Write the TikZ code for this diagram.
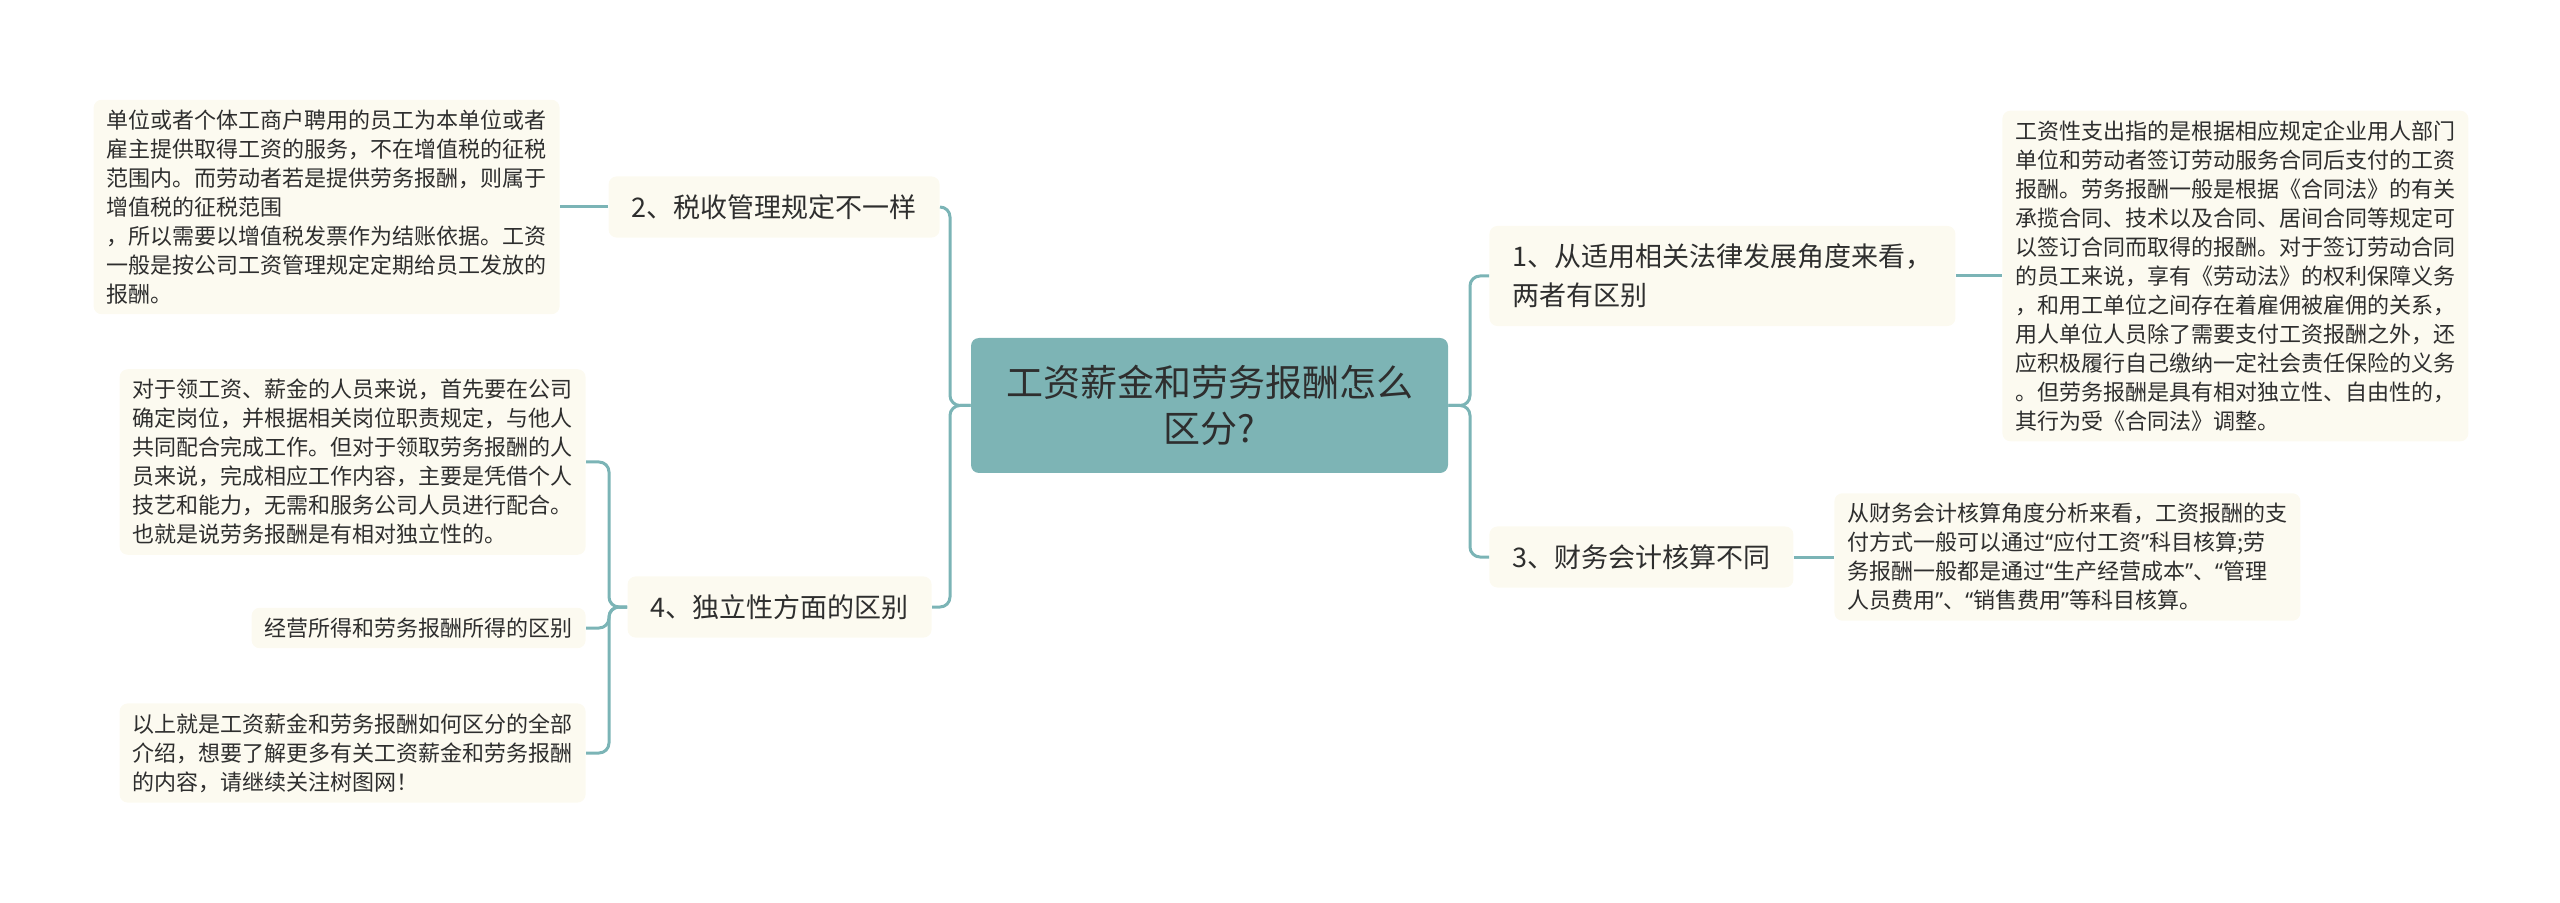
\documentclass[tikz,border=0pt]{standalone}
\usepackage{fontspec}
\newfontfamily\cjk{Noto Sans CJK SC}
\newfontfamily\latq{Noto Sans}
\newcommand\myoq{{\latq “}}
\newcommand\mycq{{\latq ”}}
\definecolor{rootc}{HTML}{7DB4B5}
\definecolor{creamc}{HTML}{FCFAF0}
\definecolor{linec}{HTML}{7BB4B6}
\definecolor{textc}{HTML}{2E2E2E}
\tikzset{
  rootbox/.style={fill=rootc, rounded corners=4pt, text=textc, align=center,
    minimum width=238.5pt, minimum height=67.5pt, inner sep=0pt,
    font=\cjk\fontsize{18.5}{23}\selectfont},
  topicbox/.style={fill=creamc, rounded corners=4pt, text=textc, align=left,
    inner xsep=11.5pt, inner ysep=9pt, minimum height=29pt,
    font=\cjk\fontsize{13.5}{19.5}\selectfont},
  leafbox/.style={fill=creamc, rounded corners=4pt, text=textc, align=left,
    inner xsep=6.5pt, inner ysep=5pt,
    font=\cjk\fontsize{11}{14.5}\selectfont},
  conn/.style={draw=linec, line width=1.5pt, rounded corners=5pt}
}
\begin{document}
\begin{tikzpicture}[x=0.5pt, y=-0.5pt]
\useasboundingbox (0,0) rectangle (2560,903);

% root
\node[rootbox] (root) at (1209.5,405.5) {工资薪金和劳务报酬怎么\\区分?};

% right topics
\node[topicbox, anchor=west] (t1) at (1489,276) {1、从适用相关法律发展角度来看，\\两者有区别};
\node[topicbox, anchor=west] (t3) at (1489,557) {3、财务会计核算不同};
% left topics
\node[topicbox, anchor=east] (t2) at (940,207) {2、税收管理规定不一样};
\node[topicbox, anchor=east] (t4) at (932,607) {4、独立性方面的区别};

% leaves
\node[leafbox, anchor=west] (l1) at (2002,276) {工资性支出指的是根据相应规定企业用人部门\\单位和劳动者签订劳动服务合同后支付的工资\\报酬。劳务报酬一般是根据《合同法》的有关\\承揽合同、技术以及合同、居间合同等规定可\\以签订合同而取得的报酬。对于签订劳动合同\\的员工来说，享有《劳动法》的权利保障义务\\，和用工单位之间存在着雇佣被雇佣的关系，\\用人单位人员除了需要支付工资报酬之外，还\\应积极履行自己缴纳一定社会责任保险的义务\\。但劳务报酬是具有相对独立性、自由性的，\\其行为受《合同法》调整。};
\node[leafbox, anchor=west] (l3) at (1834,557) {从财务会计核算角度分析来看，工资报酬的支\\付方式一般可以通过\myoq 应付工资\mycq 科目核算;劳\\务报酬一般都是通过\myoq 生产经营成本\mycq 、\myoq 管理\\人员费用\mycq 、\myoq 销售费用\mycq 等科目核算。};
\node[leafbox, anchor=east] (l2) at (560,207) {单位或者个体工商户聘用的员工为本单位或者\\雇主提供取得工资的服务，不在增值税的征税\\范围内。而劳动者若是提供劳务报酬，则属于\\增值税的征税范围\\，所以需要以增值税发票作为结账依据。工资\\一般是按公司工资管理规定定期给员工发放的\\报酬。};
\node[leafbox, anchor=east] (la) at (586,462) {对于领工资、薪金的人员来说，首先要在公司\\确定岗位，并根据相关岗位职责规定，与他人\\共同配合完成工作。但对于领取劳务报酬的人\\员来说，完成相应工作内容，主要是凭借个人\\技艺和能力，无需和服务公司人员进行配合。\\也就是说劳务报酬是有相对独立性的。};
\node[leafbox, anchor=east] (lb) at (586,628) {经营所得和劳务报酬所得的区别};
\node[leafbox, anchor=east] (lc) at (586,753) {以上就是工资薪金和劳务报酬如何区分的全部\\介绍，想要了解更多有关工资薪金和劳务报酬\\的内容，请继续关注树图网！};

% trunk points
\coordinate (rj) at (1470,405.5);
\coordinate (lj) at (950,405.5);
\coordinate (j4) at (609,607);

% connectors root -> topics
\draw[conn] (root.east) -- (rj) |- (t1.west);
\draw[conn] (root.east) -- (rj) |- (t3.west);
\draw[conn] (root.west) -- (lj) |- (t2.east);
\draw[conn] (root.west) -- (lj) |- (t4.east);

% topics -> leaves
\draw[conn] (t1.east) -- (l1.west);
\draw[conn] (t3.east) -- (l3.west);
\draw[conn] (t2.west) -- (l2.east);
\draw[conn] (t4.west) -- (j4) |- (la.east);
\draw[conn] (t4.west) -- (j4) |- (lb.east);
\draw[conn] (t4.west) -- (j4) |- (lc.east);
\end{tikzpicture}
\end{document}
